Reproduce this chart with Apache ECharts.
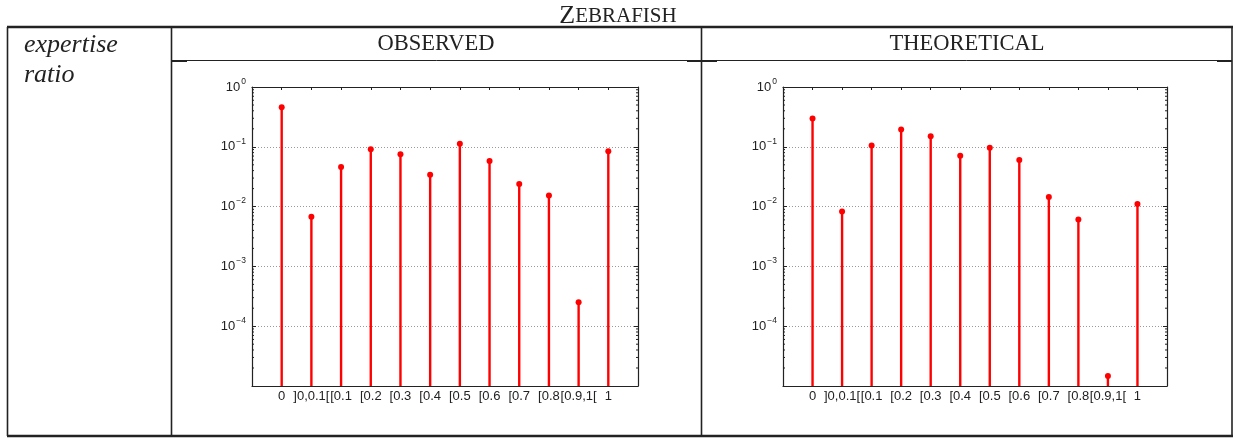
<!DOCTYPE html>
<html>
<head>
<meta charset="utf-8">
<script src="https://cdn.jsdelivr.net/npm/echarts@6/dist/echarts.min.js"></script>
<style>
html,body{margin:0;padding:0;background:#fff;}
#chart{width:1236px;height:439px;}
</style>
</head>
<body>
<div id="chart"></div>
<script>
// ---- data ----
const categories = ['0', ']0,0.1[', '[0.1', '[0.2', '[0.3', '[0.4', '[0.5', '[0.6', '[0.7', '[0.8', '[0.9,1[', '1'];
const observed = [0.459, 0.00678, 0.046, 0.091, 0.075, 0.034, 0.113, 0.058, 0.0239, 0.0154, 0.000252, 0.084];
const theoretical = [0.297, 0.0083, 0.105, 0.194, 0.150, 0.071, 0.096, 0.0604, 0.0145, 0.0061, 0.0000147, 0.011];
const panelTitles = ['OBSERVED', 'THEORETICAL'];
const figureTitle = ['Z', 'EBRAFISH'];
const rowLabel = ['expertise', 'ratio'];
const yMin = 1e-5, yMax = 1;
const minorTickValues = [];
for (let d = -5; d < 0; d++) for (let k = 2; k <= 9; k++) minorTickValues.push(k * Math.pow(10, d));

const chart = echarts.init(document.getElementById('chart'), null, {renderer: 'canvas'});

const AX = '#222';
const grids = [
  {left: 252, top: 87, width: 386, height: 299},
  {left: 783, top: 87, width: 384, height: 299}
];

function yLabel(v) {
  const e = Math.round(Math.log10(v));
  if (e <= -5) return '';
  return '{b|10}{s|' + (e === 0 ? '0' : '\u2212' + (-e)) + '}';
}

const xAxis = [], yAxis = [], series = [];
[observed, theoretical].forEach((vals, g) => {
  // bottom x axis
  xAxis.push({
    type: 'value', gridIndex: g, min: -1, max: 12, interval: 1, position: 'bottom',
    axisLine: {show: true, onZero: false, lineStyle: {color: AX, width: 1.2}},
    axisTick: {show: false},
    splitLine: {show: false},
    axisLabel: {
      margin: 4, color: '#222', fontFamily: 'Liberation Sans', fontSize: 13,
      showMinLabel: true, showMaxLabel: true,
      formatter: v => (v >= 0 && v < categories.length) ? categories[v] : ''
    }
  });
  // top x axis
  xAxis.push({
    type: 'value', gridIndex: g, min: -1, max: 12, interval: 1, position: 'top',
    axisLine: {show: true, onZero: false, lineStyle: {color: AX, width: 1.2}},
    axisTick: {show: true, inside: true, length: 3, lineStyle: {color: AX}},
    splitLine: {show: false},
    axisLabel: {show: false}
  });
  // left log y axis
  yAxis.push({
    type: 'log', logBase: 10, gridIndex: g, min: yMin, max: yMax, splitNumber: 5, position: 'left',
    axisLine: {show: true, onZero: false, lineStyle: {color: AX, width: 1.2}},
    axisTick: {show: true, inside: true, length: 4, lineStyle: {color: AX}},
    splitLine: {show: true, lineStyle: {color: '#9a9a9a', type: [1, 2], width: 1}},
    axisLabel: {
      margin: 6, color: '#222', fontFamily: 'Liberation Sans',
      showMinLabel: true,
      formatter: yLabel,
      rich: {
        b: {fontSize: 13, fontFamily: 'Liberation Sans', color: '#222'},
        s: {fontSize: 8.5, fontFamily: 'Liberation Sans', color: '#222', padding: [0, 0, 11, 1]}
      }
    }
  });
  // right log y axis
  yAxis.push({
    type: 'log', logBase: 10, gridIndex: g, min: yMin, max: yMax, splitNumber: 5, position: 'right',
    axisLine: {show: true, onZero: false, lineStyle: {color: AX, width: 1.2}},
    axisTick: {show: true, inside: true, length: 4, lineStyle: {color: AX}},
    splitLine: {show: false},
    axisLabel: {show: false}
  });
  // minor ticks on both y axes
  series.push({
    type: 'custom', xAxisIndex: g * 2, yAxisIndex: g * 2, silent: true, clip: false, z: 3,
    data: minorTickValues.map(v => [v]),
    renderItem: (params, api) => {
      const v = api.value(0);
      const pl = api.coord([-1, v]);
      const pr = api.coord([12, v]);
      const st = {stroke: AX, lineWidth: 1};
      return {type: 'group', children: [
        {type: 'line', shape: {x1: pl[0], y1: pl[1], x2: pl[0] + 2, y2: pl[1]}, style: st},
        {type: 'line', shape: {x1: pr[0], y1: pr[1], x2: pr[0] - 2, y2: pr[1]}, style: st}
      ]};
    }
  });
  // stems
  series.push({
    type: 'custom', xAxisIndex: g * 2, yAxisIndex: g * 2, clip: false, z: 5,
    data: vals.map((v, i) => [i, v]),
    renderItem: (params, api) => {
      const x = api.value(0), y = api.value(1);
      const top = api.coord([x, y]);
      const bot = api.coord([x, yMin]);
      return {type: 'group', children: [
        {type: 'line', shape: {x1: top[0], y1: top[1], x2: bot[0], y2: bot[1]}, style: {stroke: '#ff0000', lineWidth: 2.4}},
        {type: 'circle', shape: {cx: top[0], cy: top[1], r: 3}, style: {fill: '#ff0000'}}
      ]};
    }
  });
});

// table rules and texts
const L = '#222';
const graphic = [
  // title
  {type: 'text', left: 'center', top: 3, style: {
    text: '{a|' + figureTitle[0] + '}{b|' + figureTitle[1] + '}',
    rich: {
      a: {fontFamily: 'Liberation Serif', fontSize: 26, fill: '#222'},
      b: {fontFamily: 'Liberation Serif', fontSize: 21, fill: '#222'}
    }
  }},
  // thick top/bottom
  {type: 'line', shape: {x1: 7, y1: 27, x2: 1233, y2: 27}, style: {stroke: L, lineWidth: 2.6}},
  {type: 'line', shape: {x1: 7, y1: 436, x2: 1233, y2: 436}, style: {stroke: L, lineWidth: 2.6}},
  // verticals
  {type: 'line', shape: {x1: 7.5, y1: 27, x2: 7.5, y2: 436}, style: {stroke: L, lineWidth: 1.6}},
  {type: 'line', shape: {x1: 171.5, y1: 27, x2: 171.5, y2: 436}, style: {stroke: L, lineWidth: 1.6}},
  {type: 'line', shape: {x1: 701.5, y1: 27, x2: 701.5, y2: 436}, style: {stroke: L, lineWidth: 1.6}},
  {type: 'line', shape: {x1: 1232, y1: 27, x2: 1232, y2: 436}, style: {stroke: L, lineWidth: 1.6}},
  // header rule
  {type: 'line', shape: {x1: 171, y1: 60.5, x2: 1232, y2: 60.5}, style: {stroke: L, lineWidth: 1}},
  {type: 'line', shape: {x1: 171, y1: 61, x2: 187, y2: 61}, style: {stroke: L, lineWidth: 2}},
  {type: 'line', shape: {x1: 687, y1: 61, x2: 717, y2: 61}, style: {stroke: L, lineWidth: 2}},
  {type: 'line', shape: {x1: 1217, y1: 61, x2: 1232, y2: 61}, style: {stroke: L, lineWidth: 2}},
  // headers
  {type: 'text', x: 436, y: 44, style: {text: panelTitles[0], fontFamily: 'Liberation Serif', fontSize: 22.5, fill: '#222', align: 'center', verticalAlign: 'middle'}},
  {type: 'text', x: 967, y: 44, style: {text: panelTitles[1], fontFamily: 'Liberation Serif', fontSize: 22.5, fill: '#222', align: 'center', verticalAlign: 'middle'}},
  {type: 'text', x: 24, y: 45, style: {text: rowLabel[0], fontFamily: 'Liberation Serif', fontStyle: 'italic', fontSize: 26, fill: '#222', align: 'left', verticalAlign: 'middle'}},
  {type: 'text', x: 24, y: 75, style: {text: rowLabel[1], fontFamily: 'Liberation Serif', fontStyle: 'italic', fontSize: 26, fill: '#222', align: 'left', verticalAlign: 'middle'}}
];

chart.setOption({
  animation: false,
  backgroundColor: '#fff',
  grid: grids,
  xAxis: xAxis,
  yAxis: yAxis,
  series: series,
  graphic: graphic
});
</script>
</body>
</html>
